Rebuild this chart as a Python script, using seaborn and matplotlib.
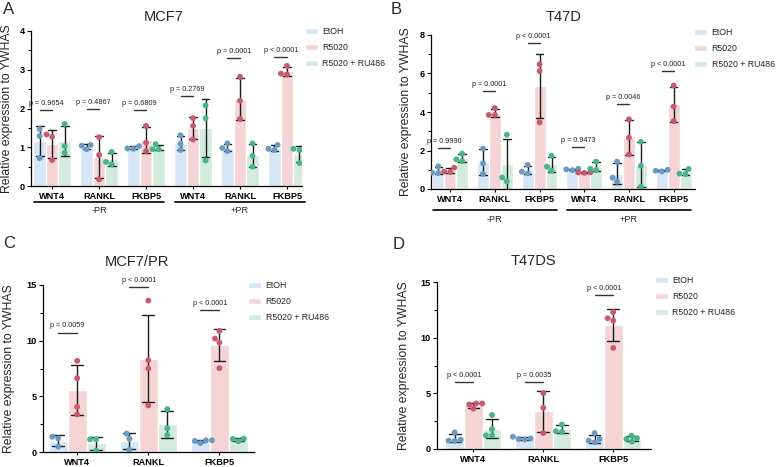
import numpy as np
import pandas as pd
import matplotlib
matplotlib.use("Agg")
import matplotlib.pyplot as plt
import seaborn as sns
from matplotlib.ticker import MultipleLocator

sns.set_theme(style="ticks")
plt.rcParams["font.family"] = ["Liberation Sans", "DejaVu Sans"]

treatments = ["EtOH", "R5020", "R5020 + RU486"]
bar_colors = ["#d6e6f6", "#f5d4d8", "#d3ebdf"]
dot_colors = ["#6a9ac4", "#c9596d", "#47b48a"]

# ---------------- Panel A: MCF7 ----------------
a_genes = ["WNT4", "RANKL", "FKBP5", "WNT4", "RANKL", "FKBP5"]
a_groups = ["-PR", "+PR"]
a_etoh = [[1.47, 1.29, 0.72], [1.06, 1.04, 0.95], [0.97, 1.03, 0.96],
          [1.31, 1.09, 0.93], [1.10, 0.98, 0.90], [1.06, 0.93, 0.96]]
a_r5020 = [[1.33, 1.27, 0.67], [1.26, 0.80, 0.17], [1.55, 1.12, 0.90],
           [1.75, 1.55, 1.20], [2.82, 2.20, 1.73], [3.10, 2.88, 2.90]]
a_ru486 = [[1.60, 1.03, 0.86], [0.88, 0.62, 0.56], [1.08, 0.95, 0.95],
           [2.08, 1.75, 0.66], [1.10, 0.78, 0.50], [0.96, 0.93, 0.59]]
a_pvals = ["p = 0.9654", "p = 0.4867", "p = 0.6809", "p = 0.2769", "p = 0.0001", "p < 0.0001"]
a_bracket = [1.96, 1.98, 1.97, 2.31, 3.30, 3.33]

# ---------------- Panel B: T47D ----------------
b_genes = ["WNT4", "RANKL", "FKBP5", "WNT4", "RANKL", "FKBP5"]
b_groups = ["-PR", "+PR"]
b_etoh = [[1.18, 0.85, 0.83], [2.10, 1.33, 0.78], [1.25, 0.81, 0.90],
          [1.02, 0.98, 1.05], [1.42, 0.59, 0.38], [1.00, 0.95, 0.92]]
b_r5020 = [[1.11, 0.90, 0.88], [4.20, 3.85, 3.85], [6.48, 6.13, 3.46],
           [0.86, 0.84, 0.87], [3.62, 2.67, 1.80], [5.37, 4.28, 3.53]]
b_ru486 = [[1.84, 1.54, 1.45], [2.82, 0.60, 0.40], [1.73, 0.95, 1.16],
           [1.42, 1.05, 0.98], [2.45, 0.12, 1.20], [1.04, 0.80, 0.78]]
b_pvals = ["p = 0.9990", "p = 0.0001", "p < 0.0001", "p = 0.9473", "p = 0.0046", "p < 0.0001"]
b_bracket = [2.11, 5.11, 7.57, 2.18, 4.42, 6.15]

# ---------------- Panel C: MCF7/PR ----------------
c_genes = ["WNT4", "RANKL", "FKBP5"]
c_etoh = [[1.37, 1.22, 0.48], [1.65, 1.18, 0.20], [0.80, 1.05, 1.00, 1.05]]
c_r5020 = [[8.19, 6.63, 4.06, 3.38], [13.6, 8.25, 7.50, 4.18], [10.19, 10.88, 9.83, 7.53]]
c_ru486 = [[1.14, 1.14, 0.12], [3.85, 2.12, 1.52], [0.96, 1.17, 1.20]]
c_pvals = ["p = 0.0059", "p < 0.0001", "p < 0.0001"]
c_bracket = [10.73, 14.79, 12.76]

# ---------------- Panel D: T47DS ----------------
d_genes = ["WNT4", "RANKL", "FKBP5"]
d_etoh = [[0.72, 1.49, 0.75, 0.84], [0.85, 1.10, 0.95, 0.90], [0.60, 1.43, 0.75, 0.90]]
d_r5020 = [[4.09, 4.09, 4.00, 3.62], [5.02, 3.70, 1.43], [11.74, 12.30, 11.53, 9.08]]
d_ru486 = [[3.05, 1.79, 1.22, 1.22], [2.20, 1.55, 1.60], [1.20, 0.66, 0.96, 0.90]]
d_pvals = ["p < 0.0001", "p = 0.0035", "p < 0.0001"]
d_bracket = [6.04, 6.04, 13.8]

YLABEL = "Relative expression to YWHAS"

W, H = 778, 467
fig = plt.figure(figsize=(W / 100, H / 100), dpi=100)


def axes_px(l, t, r, b):
    return fig.add_axes([l / W, 1 - b / H, (r - l) / W, (b - t) / H])


def build(genes, etoh, r5020, ru486):
    rows = []
    keys = []
    for i, g in enumerate(genes):
        key = f"{i}:{g}"
        keys.append(key)
        for t, vals in zip(treatments, (etoh, r5020, ru486)):
            for v in vals[i]:
                rows.append((key, t, v))
    return pd.DataFrame(rows, columns=["cat", "treat", "val"]), keys


def panel(ax, genes, etoh, r5020, ru486, pvals, bracket, ylim, major, minor,
          xlim, title, title_x, title_pad, dotted, leg_xy, ylab_x, groups=None,
          grp_line_y=None, grp_text_y=None):
    df, keys = build(genes, etoh, r5020, ru486)
    sns.barplot(data=df, x="cat", y="val", hue="treat", order=keys,
                hue_order=treatments, palette=bar_colors, saturation=1,
                errorbar="sd", capsize=0.5, width=0.8,
                err_kws={"color": "#1a1a1a", "linewidth": 1.0}, ax=ax)
    sns.swarmplot(data=df, x="cat", y="val", hue="treat", order=keys,
                  hue_order=treatments, palette=dot_colors, dodge=True,
                  size=4.2, linewidth=0, legend=False, ax=ax, warn_thresh=1)
    ax.set_ylim(*ylim)
    ax.set_xlim(*xlim)
    ax.yaxis.set_major_locator(MultipleLocator(major))
    ax.yaxis.set_minor_locator(MultipleLocator(minor))
    ax.set_xticks(range(len(keys)))
    ax.set_xticklabels(genes, fontweight="bold", fontsize=6.6)
    for lab in ax.get_yticklabels():
        lab.set_fontweight("bold")
        lab.set_fontsize(6.6)
    ax.tick_params(axis="y", which="major", length=3, width=0.8, pad=1.5, colors="black")
    ax.tick_params(axis="y", which="minor", length=2, width=0.8, colors="black")
    ax.tick_params(axis="x", length=2.5, width=0.8, pad=1.5, colors="black")
    ax.set_xlabel("")
    ax.set_ylabel(YLABEL, fontsize=8.8)
    ax.yaxis.set_label_coords(ylab_x, 0.5)
    sns.despine(ax=ax)
    for s in ("left", "bottom"):
        ax.spines[s].set_color("black")
        ax.spines[s].set_linewidth(0.9)
    if dotted:
        ax.spines["bottom"].set_linestyle((0, (1, 1)))
    ax.set_title(title, fontsize=10.5, x=title_x, pad=title_pad)

    # p-value brackets between EtOH and R5020 bars
    et_bars = ax.containers[0]
    r5_bars = ax.containers[1]
    for pe, pr, txt, yb in zip(et_bars, r5_bars, pvals, bracket):
        x0 = pe.get_x() + pe.get_width() / 2
        x1 = pr.get_x() + pr.get_width() / 2
        ax.plot([x0, x1], [yb, yb], color="#333333", lw=1.0, clip_on=False)
        ax.annotate(txt, xy=((x0 + x1) / 2, yb), xytext=(0, 2.2),
                    textcoords="offset points", ha="center", va="bottom",
                    fontsize=5.2, color="#222222", annotation_clip=False)

    if groups is not None:
        trans = ax.get_xaxis_transform()
        ticks = ax.get_xticks()
        for gi, lab in enumerate(groups):
            c0, c1 = ticks[gi * 3], ticks[gi * 3 + 2]
            ax.plot([c0 - 0.38, c1 + 0.38], [grp_line_y, grp_line_y], transform=trans,
                    clip_on=False, color="black", lw=1.2)
            ax.text((c0 + c1) / 2, grp_text_y, lab, transform=trans, ha="center",
                    va="center", fontsize=6.6)

    sns.move_legend(ax, "upper left", bbox_to_anchor=(leg_xy[0] / W, 1 - leg_xy[1] / H),
                    bbox_transform=fig.transFigure, title=None, frameon=False,
                    fontsize=6.3, handlelength=1.5, handleheight=0.8,
                    labelspacing=0.8, handletextpad=0.5, borderpad=0,
                    borderaxespad=0)


axA = axes_px(31, 31, 302, 186)
panel(axA, a_genes, a_etoh, a_r5020, a_ru486, a_pvals, a_bracket, (0, 4), 1, 0.5,
      (-0.45, 5.32), "MCF7", 0.49, 7, False, (305, 27), -0.066,
      groups=a_groups, grp_line_y=-0.103, grp_text_y=-0.161)

axB = axes_px(431, 35, 696, 189)
panel(axB, b_genes, b_etoh, b_r5020, b_ru486, b_pvals, b_bracket, (0, 8), 2, 1,
      (-0.43, 5.5), "T47D", 0.5, 10, True, (694, 28), -0.072,
      groups=b_groups, grp_line_y=-0.136, grp_text_y=-0.2)

axC = axes_px(43, 285, 255, 452)
panel(axC, c_genes, c_etoh, c_r5020, c_ru486, c_pvals, c_bracket, (0, 15), 5, 2.5,
      (-0.48, 2.5), "MCF7/PR", 0.443, 14, True, (248, 281), -0.132)

axD = axes_px(437, 282, 651, 449)
panel(axD, d_genes, d_etoh, d_r5020, d_ru486, d_pvals, d_bracket, (0, 15), 5, 2.5,
      (-0.52, 2.54), "T47DS", 0.449, 12, True, (655, 276), -0.126)

for lab, (x, y) in zip("ABCD", [(3, 2), (391, 2), (3, 236), (393, 237)]):
    fig.text(x / W, 1 - y / H, lab, fontsize=12, ha="left", va="top")

fig.savefig("out.png", dpi=100)
